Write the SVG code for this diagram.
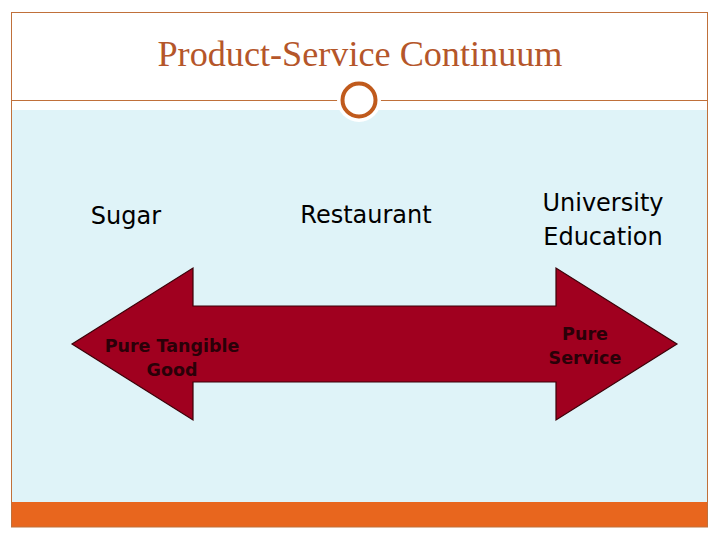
<svg xmlns="http://www.w3.org/2000/svg" width="720" height="540" viewBox="0 0 720 540">
<style>
.lbl{font-family:"DejaVu Sans",Verdana,sans-serif;font-size:24px;fill:#000;text-anchor:middle}
.in{font-family:"DejaVu Sans","Liberation Sans",sans-serif;font-weight:bold;font-size:17.5px;fill:#2a0008;text-anchor:middle}
</style>
<rect x="0" y="0" width="720" height="540" fill="#fff"/>
<rect x="12" y="110" width="695" height="393" fill="#dff3f8"/>
<rect x="11.5" y="502" width="696" height="25" fill="#e8661e"/>
<rect x="11.5" y="12.5" width="696" height="514.5" fill="none" stroke="#c0703a" stroke-width="1"/>
<line x1="11.5" y1="100.5" x2="707.5" y2="100.5" stroke="#c0703a" stroke-width="1"/>
<circle cx="359" cy="100" r="22" fill="#fff"/>
<circle cx="359" cy="100" r="16.5" fill="none" stroke="#c05a1c" stroke-width="4"/>
<text x="360" y="66" font-family="'Liberation Serif',Georgia,serif" font-size="35" fill="#b5562a" text-anchor="middle" textLength="405" lengthAdjust="spacingAndGlyphs">Product-Service Continuum</text>
<g id="connectors">
<polygon id="arrow" points="72,344 193,268 193,306 556,306 556,268 677,344 556,420 556,382 193,382 193,420" fill="#a0001f" stroke="#3a0008" stroke-width="1.2"/>
</g>
<g id="sugar"><text class="lbl" x="126" y="224">Sugar</text></g>
<g id="restaurant"><text class="lbl" x="366" y="223">Restaurant</text></g>
<g id="university"><text class="lbl" x="603" y="211">University</text><text class="lbl" x="603" y="245">Education</text></g>
<g id="tangible"><text class="in" x="172" y="352">Pure Tangible</text><text class="in" x="172" y="376">Good</text></g>
<g id="service"><text class="in" x="585" y="340">Pure</text><text class="in" x="585" y="364">Service</text></g>
</svg>
